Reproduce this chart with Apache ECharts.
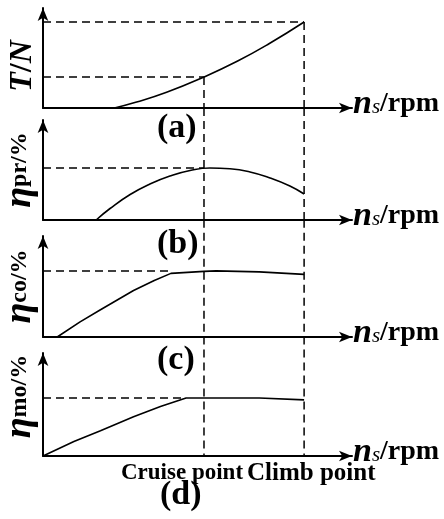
<!DOCTYPE html>
<html>
<head>
    <meta charset="utf-8">
    <title>Cruise / Climb</title>
    <script src="https://cdnjs.cloudflare.com/ajax/libs/echarts/6.0.0/echarts.min.js"></script>
    <style>
        html, body {margin: 0; padding: 0; background: #fff;}
    </style>
</head>
<body>
<div id="main" style="width: 444px;height: 519px"></div>

<script>
    // x positions (relative units) of the two operating points
    const xCruise = 5.21;
    const xClimb = 8.45;

    // (a) thrust
    const thrust = [[2.31, 0], [3, 0.57], [4, 1.57], [5.21, 3.1], [6.3, 4.7], [7.3, 6.4], [8.45, 8.6]];
    const thrustGuide = [8.6, 3.1];
    // (b) propeller efficiency
    const etaPr = [[1.72, 0], [2.17, 1.15], [2.82, 2.55], [3.46, 3.6], [4.11, 4.4], [4.76, 4.95], [5.4, 5.2],
        [6.05, 5.12], [6.7, 4.8], [7.35, 4.2], [7.99, 3.4], [8.45, 2.6]];
    const etaPrGuide = 5.2;
    // (c) controller efficiency
    const etaCo = [[0.46, 0], [1.2, 1.5], [1.86, 2.7], [2.93, 4.6], [3.6, 5.6], [4.14, 6.3], [5.21, 6.5], [5.6, 6.55], [7, 6.45], [8.45, 6.2]];
    const etaCoGuide = 6.53;
    const etaCoKnee = 4.14;
    // (d) motor efficiency
    const etaMo = [[0, 0], [1, 1.4], [1.86, 2.45], [2.93, 3.8], [3.8, 4.8], [4.63, 5.63], [7, 5.63], [8.45, 5.45]];
    const etaMoGuide = 5.63;
    const etaMoKnee = 4.63;

    const serif = 'Liberation Serif';

    let grids = [
        {left: 43, right: 92, top: 8, height: 100, outerBoundsMode: 'none', containLabel: false},
        {left: 43, right: 92, top: 120, height: 100, outerBoundsMode: 'none', containLabel: false},
        {left: 43, right: 92, top: 236, height: 101, outerBoundsMode: 'none', containLabel: false},
        {left: 43, right: 92, top: 353, height: 103, outerBoundsMode: 'none', containLabel: false}
    ];
    // how far above each panel the vertical guides have to reach to join the panel above
    let reach = [0, 11.2, 11.6, 11.6];

    let yNames = [
        '{i|T}{b|/}{i|N}',
        '{eta|η}{s|pr/%}',
        '{eta|η}{s|co/%}',
        '{eta|η}{s|mo/%}'
    ];
    // nudges the rotated axis titles along the axis
    let yNamePad = [[0, 16, 0, 0], [0, 0, 0, 0], [0, 0, 0, 0], [0, 0, 0, 16]];

    let xAxes = [], yAxes = [];
    grids.forEach(function (g, i) {
        xAxes.push({
            type: 'value', gridIndex: i, min: 0, max: 10,
            axisLine: {lineStyle: {color: '#000', width: 2}, symbol: ['none', 'arrow'], symbolSize: [8, 13]},
            axisTick: {show: false}, axisLabel: {show: false}, splitLine: {show: false},
            name: '{n|n}{sub|s}{r|/rpm}',
            nameGap: 1,
            nameTextStyle: {
                padding: [0, 0, 8, 0],
                rich: {
                    n: {fontFamily: serif, fontWeight: 'bold', fontStyle: 'italic', fontSize: 34, color: '#000'},
                    sub: {fontFamily: serif, fontStyle: 'italic', fontSize: 21, color: '#000', padding: [6, 0, 0, 0]},
                    r: {fontFamily: serif, fontWeight: 'bold', fontSize: 28, color: '#000'}
                }
            }
        });
        yAxes.push({
            type: 'value', gridIndex: i, min: 0, max: 10,
            axisLine: {lineStyle: {color: '#000', width: 2}, symbol: ['none', 'arrow'], symbolSize: [8, 13]},
            axisTick: {show: false}, axisLabel: {show: false}, splitLine: {show: false},
            name: yNames[i],
            nameLocation: 'middle',
            nameRotate: 90,
            nameGap: 4,
            nameTextStyle: {
                padding: yNamePad[i],
                rich: {
                    i: {fontFamily: serif, fontWeight: 'bold', fontStyle: 'italic', fontSize: 32, color: '#000'},
                    b: {fontFamily: serif, fontWeight: 'bold', fontSize: 32, color: '#000'},
                    eta: {fontFamily: serif, fontWeight: 'bold', fontStyle: 'italic', fontSize: 38, color: '#000'},
                    s: {fontFamily: serif, fontWeight: 'bold', fontSize: 24, color: '#000'}
                }
            }
        });
    });

    let curve = function (i, data, smooth) {
        return {
            type: 'line', xAxisIndex: i, yAxisIndex: i, data: data, smooth: smooth,
            symbol: 'none', lineStyle: {color: '#000', width: 1.6}, silent: true
        };
    };
    let dash = function (i, data) {
        return {
            type: 'line', xAxisIndex: i, yAxisIndex: i, data: data, clip: false,
            symbol: 'none', lineStyle: {color: '#000', width: 1.5, type: [8, 5]}, silent: true
        };
    };

    let series = [
        curve(0, thrust, true),
        curve(1, etaPr, true),
        curve(2, etaCo, false),
        curve(3, etaMo, false),
        // horizontal guides
        dash(0, [[0, thrustGuide[0]], [xClimb, thrustGuide[0]]]),
        dash(0, [[0, thrustGuide[1]], [xCruise, thrustGuide[1]]]),
        dash(1, [[0, etaPrGuide], [xCruise, etaPrGuide]]),
        dash(2, [[0, etaCoGuide], [etaCoKnee, etaCoGuide]]),
        dash(3, [[0, etaMoGuide], [etaMoKnee, etaMoGuide]]),
        // vertical guides, panel (a)
        dash(0, [[xCruise, thrustGuide[1]], [xCruise, 0]]),
        dash(0, [[xClimb, thrustGuide[0]], [xClimb, 0]])
    ];
    for (let i = 1; i < 4; i++) {
        series.push(dash(i, [[xCruise, reach[i]], [xCruise, 0]]));
        series.push(dash(i, [[xClimb, reach[i]], [xClimb, 0]]));
    }

    let label = function (text, x, y, size) {
        return {
            type: 'text', left: x, top: y,
            style: {text: text, fontFamily: serif, fontWeight: 'bold', fontSize: size, fill: '#000'}
        };
    };

    var myChart = echarts.init(document.getElementById('main'));
    myChart.setOption({
        animation: false,
        grid: grids,
        xAxis: xAxes,
        yAxis: yAxes,
        series: series,
        graphic: [
            label('(a)', 157, 111, 34),
            label('(b)', 157, 227, 34),
            label('(c)', 157, 343, 34),
            label('Cruise point', 121, 462, 23),
            label('Climb point', 247, 461, 25),
            label('(d)', 160, 478, 34)
        ]
    });
</script>
</body>
</html>
